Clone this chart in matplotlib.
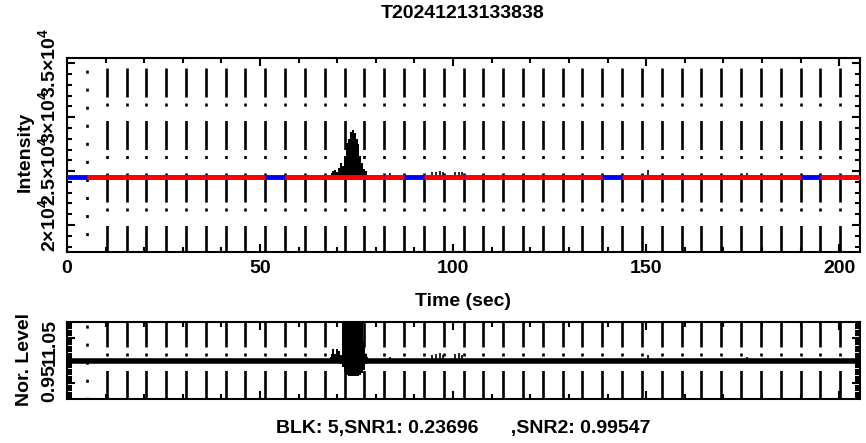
import numpy as np
import matplotlib.pyplot as plt
from matplotlib.ticker import MultipleLocator

plt.rcParams['font.family'] = ['Liberation Sans', 'DejaVu Sans']
plt.rcParams['font.weight'] = 'bold'
plt.rcParams['mathtext.fontset'] = 'custom'
plt.rcParams['mathtext.rm'] = 'Liberation Sans:bold'
plt.rcParams['mathtext.bf'] = 'Liberation Sans:bold'
plt.rcParams['mathtext.default'] = 'rm'
plt.rcParams['lines.scale_dashes'] = False

# ============================================================
# data
# ============================================================
title = 'T20241213133838'
footer = 'BLK: 5,SNR1: 0.23696      ,SNR2: 0.99547'

block_len = 5.135
n_blocks = 40
blue_blocks = [0, 10, 17, 27, 37]

base_level = 2.45e4

# burst in the intensity panel, 0.5 s steps
burst_t = [68.0, 68.5, 69.0, 69.5, 70.0, 70.5, 71.0, 71.5, 72.0, 72.5, 73.0,
           73.5, 74.0, 74.5, 75.0, 75.5, 76.0, 76.5, 77.0, 77.5, 78.0]
burst_val = [2.46e4, 2.48e4, 2.50e4, 2.51e4, 2.49e4, 2.53e4, 2.58e4, 2.55e4,
             2.64e4, 2.76e4, 2.80e4, 2.86e4, 2.88e4, 2.85e4, 2.80e4, 2.75e4,
             2.64e4, 2.58e4, 2.52e4, 2.50e4, 2.46e4]

# small bumps elsewhere
bump_t = [83.7, 94.5, 95.5, 96.5, 97.5, 100.5, 101.5, 102.2, 150.5, 176.0]
bump_val = [2.48e4, 2.49e4, 2.495e4, 2.50e4, 2.49e4, 2.49e4, 2.495e4, 2.49e4,
            2.51e4, 2.48e4]

# normalised level
norm_t = burst_t
norm_hi = [1.008, 1.015, 1.026, 1.015, 1.026, 1.020, 1.012, 1.10, 1.10, 1.10,
           1.10, 1.10, 1.10, 1.10, 1.10, 1.10, 1.10, 1.10, 1.04, 1.015, 1.008]
norm_lo = [0.996, 0.996, 0.995, 0.996, 0.995, 0.995, 0.993, 0.985, 0.975,
           0.968, 0.967, 0.967, 0.967, 0.967, 0.967, 0.967, 0.968, 0.972,
           0.980, 0.992, 0.996]
norm_bump_t = bump_t
norm_bump_val = [1.008, 1.012, 1.015, 1.017, 1.013, 1.014, 1.017, 1.012, 1.012,
                 1.008]

# ============================================================
# figure
# ============================================================
fig = plt.figure(figsize=(8.66, 4.43), dpi=100)
ax1 = fig.add_axes([0.0774, 0.4312, 0.9157, 0.4379])
ax2 = fig.add_axes([0.0774, 0.0993, 0.9157, 0.1738])

t_end = block_len * n_blocks
edges = np.arange(1, n_blocks) * block_len

# top panel
ax1.plot([0, t_end], [base_level, base_level], color='k', lw=1, zorder=2)
ax1.fill_between(burst_t, base_level, burst_val, step='mid', color='k',
                 lw=0, zorder=2)
ax1.vlines(bump_t, base_level, bump_val, color='k', lw=1.2, zorder=2)
ax1.plot([0, t_end], [base_level, base_level], color='blue', lw=3.5, zorder=3)
for k in range(n_blocks):
    if k in blue_blocks:
        continue
    ax1.plot([k * block_len, (k + 1) * block_len], [base_level, base_level],
             color='red', lw=3.5, solid_capstyle='butt', zorder=4)

# bottom panel
ax2.plot([0, t_end], [1.0, 1.0], color='k', lw=4, zorder=2)
ax2.fill_between(norm_t, norm_lo, norm_hi, step='mid', color='k', lw=0,
                 zorder=2)
ax2.vlines(norm_bump_t, 1.0, norm_bump_val, color='k', lw=1.2, zorder=2)

# block boundaries
for ax, off_dash, off_dot in [(ax1, 30.6, 4.3), (ax2, 2.9, 10.8)]:
    for i, x in enumerate(edges):
        if i == 0:
            ls = (off_dot, (2.2, 10.8))
        else:
            ls = (off_dash, (20.9, 4.3, 2.2, 10.4))
        ax.plot([x, x], [1, 0], transform=ax.get_xaxis_transform(),
                color='k', lw=1.9, linestyle=ls, zorder=1)

# axes style
for ax in (ax1, ax2):
    ax.set_xlim(0, t_end)
    ax.xaxis.set_major_locator(MultipleLocator(50))
    ax.xaxis.set_minor_locator(MultipleLocator(10))
    ax.tick_params(which='both', direction='in', top=True, right=True,
                   width=1.5, labelsize=14)
    ax.tick_params(which='major', length=6)
    ax.tick_params(which='minor', length=3.5)
    for s in ax.spines.values():
        s.set_linewidth(1.5)

ax1.set_ylim(1.75e4, 3.55e4)
ax1.set_yticks([2e4, 2.5e4, 3e4, 3.5e4])
ax1.set_yticklabels([r'2$\times$10$^4$', r'2.5$\times$10$^4$',
                     r'3$\times$10$^4$', r'3.5$\times$10$^4$'])
ax1.yaxis.set_minor_locator(MultipleLocator(1000))
ax1.tick_params(axis='x', pad=6)

ax2.set_ylim(0.916, 1.084)
ax2.set_yticks([0.95, 1.0, 1.05])
ax2.set_yticklabels(['0.95', '1', '1.05'])
ax2.yaxis.set_minor_locator(MultipleLocator(0.005))
ax2.tick_params(axis='x', labelbottom=False)

for ax in (ax1, ax2):
    ax.tick_params(axis='y', pad=6)
    for lab in ax.get_yticklabels():
        lab.set_rotation(90)
        lab.set_va('center')

fig.text(25 / 866, 1 - 152 / 443, 'Intensity', rotation=90, ha='center',
         va='center', fontsize=14)
fig.text(25 / 866, 1 - 360 / 443, 'Nor. Level', rotation=90, ha='center',
         va='center', fontsize=14)
fig.text(463 / 866, 1 - 13 / 443, title, ha='center', va='center', fontsize=14)
fig.text(463 / 866, 1 - 302 / 443, 'Time (sec)', ha='center', va='center',
         fontsize=14)
fig.text(463 / 866, 1 - 428 / 443, footer, ha='center', va='center',
         fontsize=14)

fig.savefig('out.png', dpi=100)
